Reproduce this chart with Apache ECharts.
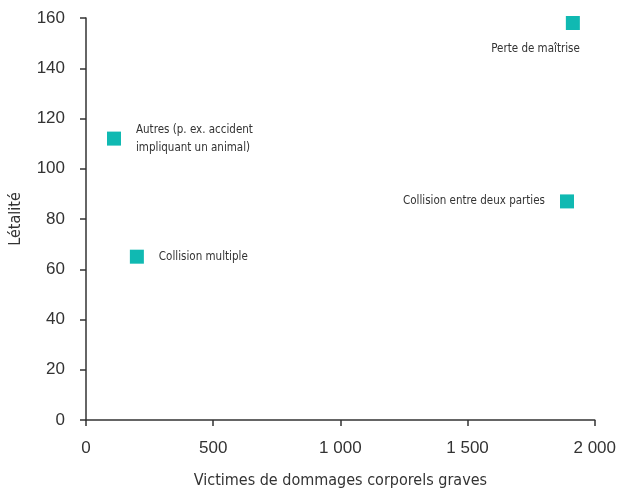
<!DOCTYPE html>
<html><head><meta charset="utf-8">
<script src="https://cdn.jsdelivr.net/npm/echarts@6/dist/echarts.min.js"></script>
<style>html,body{margin:0;padding:0;background:#fff}#c{width:619px;height:494px}</style>
</head><body><div id="c"></div>
<script>
const names = ['Perte de maîtrise', 'Autres (p. ex. accident\nimpliquant un animal)', 'Collision multiple', 'Collision entre deux parties'];
const xValues = [1914, 110, 200, 1891];
const yValues = [158, 112, 65, 87];
const xTicks = [0, 500, 1000, 1500, 2000];
const yTicks = [0, 20, 40, 60, 80, 100, 120, 140, 160];

const labelCfg = [
  {position: 'bottom', align: 'right', distance: 13, offset: [7, 0]},
  {position: 'right', distance: 15, lineHeight: 18},
  {position: 'right', distance: 15},
  {position: 'left', distance: 15}
];
const condensed = '"DejaVu Sans Condensed", "Liberation Sans Narrow", sans-serif';
const tickFont = '"Liberation Sans", Arial, sans-serif';
const chart = echarts.init(document.getElementById('c'));
chart.setOption({
  animation: false,
  grid: {left: 84, right: 24, top: 18, bottom: 74, containLabel: false},
  xAxis: {
    type: 'value', min: xTicks[0], max: xTicks[xTicks.length - 1], interval: 500,
    name: 'Victimes de dommages corporels graves', nameLocation: 'middle', nameGap: 53,
    nameTextStyle: {fontFamily: condensed, fontSize: 16, color: '#333'},
    axisLine: {show: true, lineStyle: {color: '#333', width: 1.5}},
    axisTick: {show: true, length: 6, lineStyle: {color: '#333', width: 1.5}},
    axisLabel: {margin: 20, fontFamily: tickFont, fontSize: 17, color: '#333',
      formatter: v => v >= 1000 ? Math.floor(v / 1000) + ' ' + String(v % 1000).padStart(3, '0') : String(v)},
    splitLine: {show: false}
  },
  yAxis: {
    type: 'value', min: yTicks[0], max: yTicks[yTicks.length - 1], interval: 20,
    name: 'Létalité', nameLocation: 'middle', nameGap: 62,
    nameTextStyle: {fontFamily: condensed, fontSize: 16, color: '#333'},
    axisLine: {show: true, lineStyle: {color: '#333', width: 1.5}},
    axisTick: {show: true, length: 6, lineStyle: {color: '#333', width: 1.5}},
    axisLabel: {margin: 21, fontFamily: tickFont, fontSize: 17, color: '#333'},
    splitLine: {show: false}
  },
  series: [{
    type: 'scatter',
    symbol: 'rect', symbolSize: 14,
    itemStyle: {color: '#10B9B2', opacity: 1},
    data: xValues.map((x, i) => ({
      value: [x, yValues[i]],
      name: names[i],
      label: Object.assign({show: true, formatter: names[i], fontFamily: condensed, fontSize: 11.5, color: '#333'}, labelCfg[i])
    }))
  }]
});
</script></body></html>
